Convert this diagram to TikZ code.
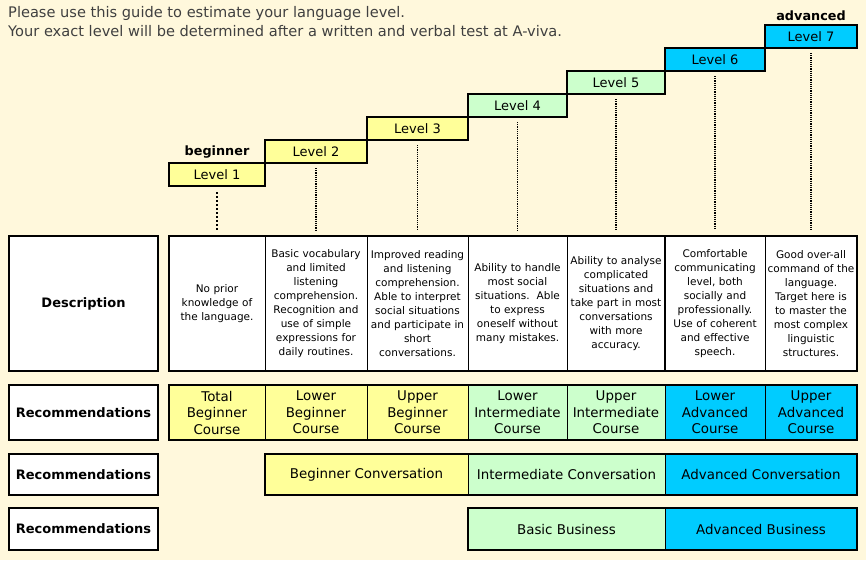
\documentclass[tikz,border=0pt]{standalone}
\usepackage{fontspec}
\setmainfont{DejaVu Sans}
\usepackage{tikz}
\usetikzlibrary{positioning}
\definecolor{paper}{RGB}{255,248,220}
\definecolor{begcol}{RGB}{255,255,153}
\definecolor{midcol}{RGB}{204,255,204}
\definecolor{advcol}{RGB}{0,204,255}
\definecolor{introcol}{RGB}{64,64,64}
\tikzstyle{lvbox} = [rectangle, minimum height=23pt, text centered, draw=black,
line width=2.5pt, outer sep=0pt, font=\fontsize{13}{15}\selectfont]
\tikzstyle{lvtag} = [font=\bfseries\fontsize{12.8}{15}\selectfont]
\tikzstyle{descbox} = [rectangle, minimum height=135pt, draw=black, line width=0.8pt,
fill=white, outer sep=0pt, inner sep=2pt, align=center, font=\fontsize{10.5}{14}\selectfont]
\tikzstyle{rowlabel} = [rectangle, minimum width=149pt, draw=black, line width=1.2pt,
fill=white, font=\bfseries\fontsize{13}{15}\selectfont]
\tikzstyle{coursebox} = [rectangle, draw=black, line width=0.8pt, outer sep=0pt,
inner sep=0pt, align=center, font=\fontsize{13.4}{16.5}\selectfont]
\tikzstyle{tableframe} = [line width=2.5pt]
\tikzstyle{guide} = [densely dotted, line width=1.2pt]

\begin{document}
\begin{tikzpicture}[x=1pt, y=-1pt]
    \useasboundingbox (0,0) rectangle (866,560);
    \fill[paper] (0,0) rectangle (866,560);

    \node (intro) [anchor=north west, inner sep=0pt, align=left, text=introcol,
    font=\fontsize{14.6}{19}\selectfont] at (8,6)
    {Please use this guide to estimate your language level.\\
     Your exact level will be determined after a written and verbal test at A-viva.};

    % staircase of levels
    \node (lv1) [lvbox, fill=begcol, minimum width=96pt] at (217,174.5) {Level 1};
    \node (lv2) [lvbox, fill=begcol, minimum width=102pt, above right=0pt and 0pt of lv1] {Level 2};
    \node (lv3) [lvbox, fill=begcol, minimum width=101pt, above right=0pt and 0pt of lv2] {Level 3};
    \node (lv4) [lvbox, fill=midcol, minimum width=99pt, above right=0pt and 0pt of lv3] {Level 4};
    \node (lv5) [lvbox, fill=midcol, minimum width=98pt, above right=0pt and 0pt of lv4] {Level 5};
    \node (lv6) [lvbox, fill=advcol, minimum width=100pt, above right=0pt and 0pt of lv5] {Level 6};
    \node (lv7) [lvbox, fill=advcol, minimum width=92pt, above right=0pt and 0pt of lv6] {Level 7};
    \node (beg) [lvtag, above=1pt of lv1] {beginner};
    \node (adv) [lvtag, above=1pt of lv7] {advanced};

    % description row
    \node (desc) [rowlabel, minimum height=135pt] at (83.5,303.5) {Description};
    \node (d1) [descbox, text width=92pt] at (217,303.5)
    {No prior\\knowledge of\\the language.};
    \node (d2) [descbox, text width=98pt, right=0pt of d1]
    {Basic vocabulary\\and limited\\listening\\comprehension.\\Recognition and\\use of simple\\expressions for\\daily routines.};
    \node (d3) [descbox, text width=97pt, right=0pt of d2]
    {Improved reading\\and listening\\comprehension.\\Able to interpret\\social situations\\and participate in\\short\\conversations.};
    \node (d4) [descbox, text width=95pt, right=0pt of d3]
    {Ability to handle\\most social\\situations.\ \ Able\\to express\\oneself without\\many mistakes.};
    \node (d5) [descbox, text width=94pt, right=0pt of d4]
    {Ability to analyse\\complicated\\situations and\\take part in most\\conversations\\with more\\accuracy.};
    \node (d6) [descbox, text width=96pt, right=0pt of d5]
    {Comfortable\\communicating\\level, both\\socially and\\professionally.\\Use of coherent\\and effective\\speech.};
    \node (d7) [descbox, text width=88pt, right=0pt of d6]
    {Good over-all\\command of the\\language.\\Target here is\\to master the\\most complex\\linguistic\\structures.};
    \draw[line width=1.2pt] (d1.north west) rectangle (d7.south east);
    \draw[line width=1.6pt] (d6.north west) -- (d6.south west);

    % dotted guides from the levels
    \draw[dotted, line width=2pt] ([yshift=-6pt]lv1.south) -- ([yshift=6pt]d1.north);
    \draw[guide] ([yshift=-5pt]lv2.south) -- ([yshift=6pt]d2.north);
    \draw[guide] ([yshift=-5pt]lv3.south) -- ([yshift=6pt]d3.north);
    \draw[guide] ([yshift=-5pt]lv4.south) -- ([yshift=6pt]d4.north);
    \draw[guide] ([yshift=-5pt]lv5.south) -- ([yshift=6pt]d5.north);
    \draw[guide] ([yshift=-5pt]lv6.south) -- ([yshift=6pt]d6.north);
    \draw[guide] ([yshift=-5pt]lv7.south) -- ([yshift=6pt]d7.north);

    % courses
    \node (rec1) [rowlabel, minimum height=55pt] at (83.5,412.5) {Recommendations};
    \node (c1) [coursebox, fill=begcol, minimum width=96pt, minimum height=55pt] at (217,412.5) {Total\\Beginner\\Course};
    \node (c2) [coursebox, fill=begcol, minimum width=102pt, minimum height=55pt, right=0pt of c1] {Lower\\Beginner\\Course};
    \node (c3) [coursebox, fill=begcol, minimum width=101pt, minimum height=55pt, right=0pt of c2] {Upper\\Beginner\\Course};
    \node (c4) [coursebox, fill=midcol, minimum width=99pt, minimum height=55pt, right=0pt of c3] {Lower\\Intermediate\\Course};
    \node (c5) [coursebox, fill=midcol, minimum width=98pt, minimum height=55pt, right=0pt of c4] {Upper\\Intermediate\\Course};
    \node (c6) [coursebox, fill=advcol, minimum width=100pt, minimum height=55pt, right=0pt of c5] {Lower\\Advanced\\Course};
    \node (c7) [coursebox, fill=advcol, minimum width=92pt, minimum height=55pt, right=0pt of c6] {Upper\\Advanced\\Course};
    \draw[tableframe] (c1.north west) rectangle (c7.south east);

    % conversation
    \node (rec2) [rowlabel, minimum height=41pt] at (83.5,474.5) {Recommendations};
    \node (cv1) [coursebox, fill=begcol, minimum width=203pt, minimum height=41pt] at (366.5,474.5) {Beginner Conversation};
    \node (cv2) [coursebox, fill=midcol, minimum width=197pt, minimum height=41pt, right=0pt of cv1] {Intermediate Conversation};
    \node (cv3) [coursebox, fill=advcol, minimum width=192pt, minimum height=41pt, right=0pt of cv2] {Advanced Conversation};
    \draw[tableframe] (cv1.north west) rectangle (cv3.south east);

    % business
    \node (rec3) [rowlabel, minimum height=42pt] at (83.5,529) {Recommendations};
    \node (bs1) [coursebox, fill=midcol, minimum width=197pt, minimum height=42pt] at (566.5,529) {Basic Business};
    \node (bs2) [coursebox, fill=advcol, minimum width=192pt, minimum height=42pt, right=0pt of bs1] {Advanced Business};
    \draw[tableframe] (bs1.north west) rectangle (bs2.south east);
\end{tikzpicture}
\end{document}
